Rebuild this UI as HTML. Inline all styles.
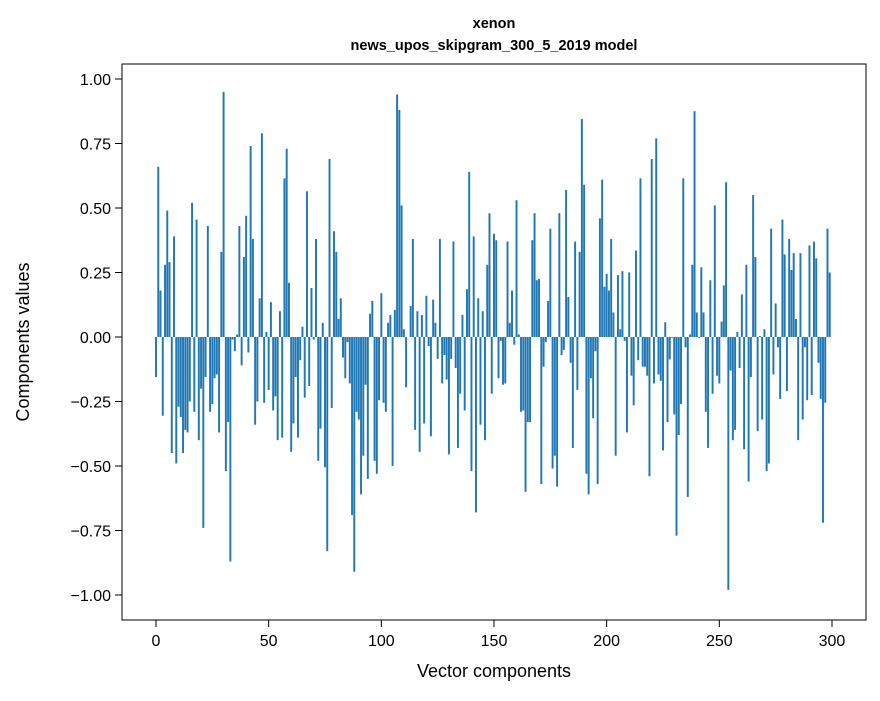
<!DOCTYPE html>
<html><head><meta charset="utf-8"><style>
html,body{margin:0;padding:0;background:#fff;}
svg text{font-family:"Liberation Sans",sans-serif;fill:#000;}
</style></head><body>
<svg id="chart" width="880" height="696" viewBox="0 0 880 696" xmlns="http://www.w3.org/2000/svg">
<rect x="0" y="0" width="880" height="696" fill="#fff"/>
<text x="494" y="28" font-size="14.5" font-weight="bold" text-anchor="middle">xenon</text>
<text x="494" y="50" font-size="14.5" font-weight="bold" text-anchor="middle">news_upos_skipgram_300_5_2019 model</text>
<g id="bars"></g>
<g id="yaxis"></g>
<g id="xaxis"></g>
<rect x="122" y="64" width="744" height="556" fill="none" stroke="#000" stroke-width="1"/>
<text x="494" y="677" font-size="18" text-anchor="middle">Vector components</text>
<text transform="translate(29,342) rotate(-90)" font-size="18" text-anchor="middle">Components values</text>
</svg>
<script>
const values = [
-0.155,0.66,0.18,-0.305,0.28,0.49,0.29,-0.45,0.39,-0.49,
-0.27,-0.31,-0.45,-0.36,-0.37,-0.25,0.52,-0.29,0.455,-0.40,
-0.20,-0.74,-0.155,0.43,-0.29,-0.26,-0.16,-0.145,-0.37,0.33,
0.95,-0.52,-0.33,-0.87,-0.01,-0.055,0.01,0.43,-0.11,0.31,
0.47,-0.06,0.74,0.38,-0.34,-0.25,0.15,0.79,-0.255,0.02,
-0.205,0.135,-0.285,-0.23,-0.40,0.10,-0.39,0.615,0.73,0.21,
-0.445,-0.335,-0.155,-0.39,-0.09,0.04,-0.235,0.565,-0.19,0.19,
-0.01,0.38,-0.48,-0.355,0.055,-0.505,-0.83,0.69,-0.275,0.41,
0.33,0.07,0.15,-0.08,-0.16,-0.02,-0.18,-0.69,-0.91,-0.29,
-0.32,-0.61,-0.46,-0.185,-0.55,0.09,0.14,-0.48,-0.53,-0.245,
0.17,-0.255,-0.29,0.055,0.085,-0.50,0.105,0.94,0.88,0.51,
0.03,-0.195,0.0,0.12,0.38,-0.36,0.10,-0.445,0.085,-0.335,
0.16,-0.035,-0.385,0.145,0.055,-0.085,0.38,-0.18,-0.07,-0.165,
-0.455,-0.085,0.37,-0.12,-0.43,-0.22,0.085,-0.285,0.185,0.64,
-0.52,0.39,-0.68,0.15,-0.34,0.10,-0.40,0.28,0.48,-0.22,
0.40,0.375,-0.16,-0.015,-0.185,-0.18,0.37,0.055,0.18,-0.03,
0.53,0.01,-0.29,-0.285,-0.60,-0.33,-0.33,0.375,0.48,0.22,
0.225,-0.57,-0.115,-0.02,0.14,0.42,-0.51,-0.46,-0.58,0.48,
-0.07,-0.05,0.57,0.155,-0.10,-0.43,0.37,-0.205,0.33,0.845,
0.59,-0.53,-0.61,-0.16,-0.315,-0.055,-0.57,0.46,0.61,0.195,
0.245,0.18,0.38,0.095,-0.46,0.24,0.03,0.255,-0.015,-0.37,
0.25,-0.15,-0.265,0.335,-0.09,0.615,-0.115,-0.115,-0.15,-0.54,
0.69,-0.18,0.77,-0.145,-0.17,-0.44,0.057,-0.33,-0.087,-0.003,
-0.30,-0.77,-0.38,-0.26,0.615,-0.04,-0.62,0.01,0.28,0.875,
0.095,-0.003,0.27,0.095,-0.29,-0.43,0.22,-0.22,0.51,-0.15,
-0.18,0.06,0.20,0.60,-0.98,-0.13,-0.40,-0.36,0.02,-0.12,
0.165,-0.435,0.28,-0.56,-0.155,0.55,0.31,-0.365,0.004,-0.32,
0.03,-0.52,-0.49,0.42,-0.145,0.13,-0.04,-0.24,0.455,0.32,
-0.21,0.38,0.26,0.325,0.07,-0.40,0.325,-0.32,-0.04,-0.245,
0.355,-0.225,0.37,0.305,-0.10,-0.24,-0.72,-0.255,0.42,0.25
];
const yTicks = [1.00,0.75,0.50,0.25,0.00,-0.25,-0.50,-0.75,-1.00];
const yTickLabels = ["1.00","0.75","0.50","0.25","0.00","\u22120.25","\u22120.50","\u22120.75","\u22121.00"];
const xTicks = [0,50,100,150,200,250,300];
const xTickLabels = ["0","50","100","150","200","250","300"];

const NS = "http://www.w3.org/2000/svg";
function xs(v){ return 156 + v*2.2533; }
function ys(v){ return 337 - v*258; }
const barsG = document.getElementById('bars');
values.forEach((v,i)=>{
  const r = document.createElementNS(NS,'rect');
  const x0 = xs(i-0.43), x1 = xs(i+0.43);
  const y0 = ys(Math.max(v,0)), y1 = ys(Math.min(v,0));
  r.setAttribute('x', x0); r.setAttribute('width', x1-x0);
  r.setAttribute('y', y0); r.setAttribute('height', Math.max(y1-y0,0.01));
  r.setAttribute('fill','#1f77b4');
  
  
  barsG.appendChild(r);
});
const yG = document.getElementById('yaxis');
yTicks.forEach((t,k)=>{
  const y = ys(t);
  const l = document.createElementNS(NS,'line');
  l.setAttribute('x1',115); l.setAttribute('x2',122); l.setAttribute('y1',y); l.setAttribute('y2',y);
  l.setAttribute('stroke','#000');
  
  
  yG.appendChild(l);
  const tx = document.createElementNS(NS,'text');
  tx.setAttribute('x',111); tx.setAttribute('y',y+6); tx.setAttribute('font-size','16'); tx.setAttribute('text-anchor','end');
  tx.textContent = yTickLabels[k];
  
  
  yG.appendChild(tx);
});
const xG = document.getElementById('xaxis');
xTicks.forEach((t,k)=>{
  const x = xs(t);
  const l = document.createElementNS(NS,'line');
  l.setAttribute('x1',x); l.setAttribute('x2',x); l.setAttribute('y1',620); l.setAttribute('y2',627);
  l.setAttribute('stroke','#000');
  
  
  xG.appendChild(l);
  const tx = document.createElementNS(NS,'text');
  tx.setAttribute('x',x); tx.setAttribute('y',646); tx.setAttribute('font-size','16'); tx.setAttribute('text-anchor','middle');
  tx.textContent = xTickLabels[k];
  
  
  xG.appendChild(tx);
});
</script>
</body></html>
